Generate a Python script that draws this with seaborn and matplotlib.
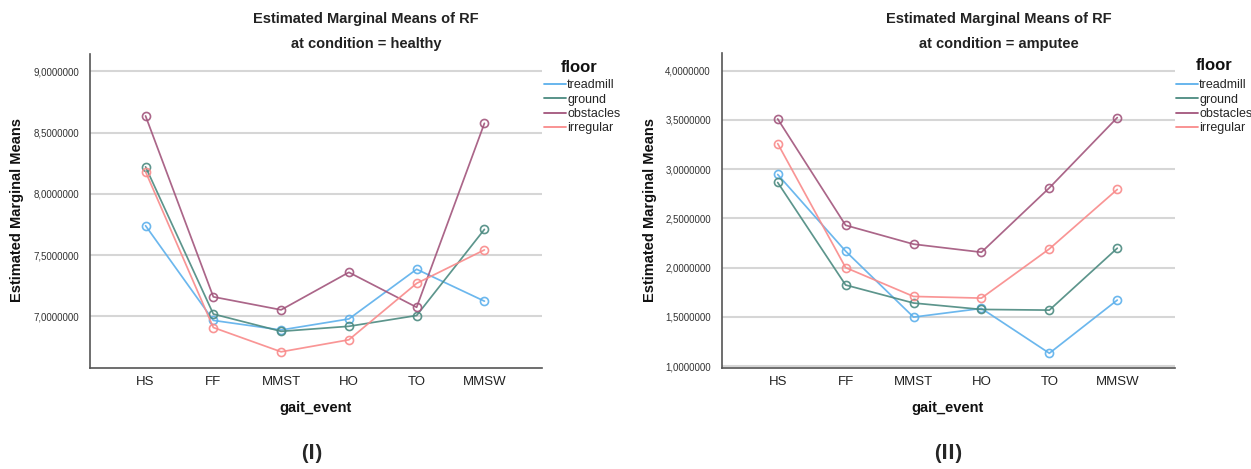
import numpy as np
import pandas as pd
import seaborn as sns
import matplotlib
matplotlib.use("Agg")
import matplotlib.pyplot as plt
from matplotlib.lines import Line2D
from matplotlib.ticker import FuncFormatter

# Gait events along the x axis and floor types as series
gait_events = ["HS", "FF", "MMST", "HO", "TO", "MMSW"]
floors = ["treadmill", "ground", "obstacles", "irregular"]

# Estimated marginal means of RF, condition = healthy
healthy_treadmill = [7.74, 6.968, 6.89, 6.98, 7.385, 7.125]
healthy_ground = [8.22, 7.02, 6.879, 6.92, 7.008, 7.71]
healthy_obstacles = [8.635, 7.16, 7.054, 7.36, 7.075, 8.575]
healthy_irregular = [8.18, 6.91, 6.712, 6.81, 7.27, 7.543]

# Estimated marginal means of RF, condition = amputee
amputee_treadmill = [2.946, 2.167, 1.497, 1.585, 1.13, 1.67]
amputee_ground = [2.865, 1.823, 1.64, 1.575, 1.568, 2.197]
amputee_obstacles = [3.51, 2.43, 2.238, 2.156, 2.81, 3.524]
amputee_irregular = [3.26, 2.0, 1.707, 1.69, 2.19, 2.794]

palette = {
    "treadmill": "#5cb0ec",
    "ground": "#4b8a80",
    "obstacles": "#a2557c",
    "irregular": "#f98a8a",
}


def long_frame(series):
    rows = []
    for floor, vals in zip(floors, series):
        for ev, v in zip(gait_events, vals):
            rows.append({"gait_event": ev, "floor": floor, "RF": v})
    return pd.DataFrame(rows)


healthy_df = long_frame([healthy_treadmill, healthy_ground,
                         healthy_obstacles, healthy_irregular])
amputee_df = long_frame([amputee_treadmill, amputee_ground,
                         amputee_obstacles, amputee_irregular])

sns.set_theme(style="white")
plt.rcParams["font.family"] = ["Liberation Sans", "DejaVu Sans"]

W, H = 1251, 469
fig = plt.figure(figsize=(W / 100, H / 100), dpi=100)


def px_axes(x0, y0, x1, y1):
    return fig.add_axes([x0 / W, 1 - y1 / H, (x1 - x0) / W, (y1 - y0) / H])


comma_fmt = FuncFormatter(lambda v, _: f"{v:.7f}".replace(".", ","))


def draw_panel(ax, df, ylim, yticks, title2, cx, legend_xy, legend_title_xy):
    ax.set_axisbelow(True)
    for t in yticks:
        ax.axhline(t, color="#d6d6d6", lw=1.5, zorder=0)
    sns.lineplot(data=df, x="gait_event", y="RF", hue="floor",
                 hue_order=floors, palette=palette, marker="o",
                 markersize=5.8, linewidth=1.25, sort=False, legend=False,
                 ax=ax, alpha=0.9)
    for ln in ax.lines:
        if ln.get_marker() == "o":
            ln.set_markerfacecolor("none")
            ln.set_markeredgecolor(ln.get_color())
            ln.set_markeredgewidth(1.2)
    ax.set_xlim(-0.82, 5.85)
    ax.set_ylim(*ylim)
    ax.set_yticks(yticks)
    ax.yaxis.set_major_formatter(comma_fmt)
    ax.tick_params(axis="y", labelsize=7, length=0, pad=8, colors="#333333")
    ax.tick_params(axis="x", labelsize=9.5, length=0, pad=6, colors="#222222")
    for s in ("top", "right"):
        ax.spines[s].set_visible(False)
    for s in ("left", "bottom"):
        ax.spines[s].set_color("#555555")
        ax.spines[s].set_linewidth(1.2)
    ax.set_xlabel("")
    ax.set_ylabel("")
    ax.grid(False)

    # Legend: title placed above the entry labels, entries with plain lines
    handles = [Line2D([0], [0], color=palette[f], lw=1.3) for f in floors]
    fig.legend(handles, floors, loc="upper left",
               bbox_to_anchor=(legend_xy[0] / W, 1 - legend_xy[1] / H),
               frameon=False, fontsize=9, handlelength=1.75,
               handletextpad=0.1, labelspacing=0.2,
               borderaxespad=0, borderpad=0)
    fig.text(legend_title_xy[0] / W, 1 - legend_title_xy[1] / H, "floor",
             ha="left", va="center", fontsize=12, fontweight="bold",
             color="#111111")

    fig.text(cx / W, 1 - 19 / H, "Estimated Marginal Means of RF",
             ha="center", va="center", fontsize=10.5, fontweight="bold",
             color="#222222")
    fig.text(cx / W, 1 - 44 / H, title2, ha="center", va="center",
             fontsize=10.5, fontweight="bold", color="#222222")


axL = px_axes(90, 54, 542, 368)
draw_panel(axL, healthy_df, (6.58, 9.14), [7.0, 7.5, 8.0, 8.5, 9.0],
           "at condition = healthy", 366, (544, 79), (561, 67))
axR = px_axes(722, 53, 1175, 368)
draw_panel(axR, amputee_df, (0.98, 4.18), [1.0, 1.5, 2.0, 2.5, 3.0, 3.5, 4.0],
           "at condition = amputee", 999, (1176, 79), (1196, 66))

# Axis titles
for x_ylab, cx_ax in ((17, 316), (650, 948)):
    fig.text(x_ylab / W, 1 - 210 / H, "Estimated Marginal Means",
             rotation=90, ha="center", va="center", fontsize=10.5,
             fontweight="bold", color="#111111")
    fig.text(cx_ax / W, 1 - 408 / H, "gait_event", ha="center",
             va="center", fontsize=10.5, fontweight="bold", color="#111111")

# Panel tags
fig.text(312 / W, 1 - 453 / H, "(I)", ha="center", va="center",
         fontsize=15, fontweight="bold", family=["Open Sans", "DejaVu Sans"])
fig.text(948 / W, 1 - 453 / H, "(II)", ha="center", va="center",
         fontsize=15, fontweight="bold", family=["Open Sans", "DejaVu Sans"])

fig.savefig("out.png", dpi=100, facecolor="white")
